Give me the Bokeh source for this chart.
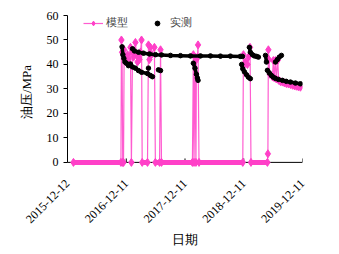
import math
import numpy as np
import pandas as pd
from bokeh.plotting import figure
from bokeh.models import Range1d, FixedTicker, DatetimeTickFormatter, Legend, LegendItem, Span
from bokeh.embed import file_html
from bokeh.resources import INLINE

# ---------------- data ----------------
x_tick_labels = ["2015-12-12", "2016-12-11", "2017-12-11", "2018-12-11", "2019-12-11"]
y_ticks = [0, 10, 20, 30, 40, 50, 60]

# model series (模型)
model_dates = [
    "2016-01-18", "2016-11-08", "2016-11-11", "2016-11-15", "2016-11-19", "2016-11-24",
    "2016-11-28", "2016-12-06", "2016-12-12", "2016-12-19", "2016-12-25", "2017-01-06",
    "2017-01-12", "2017-01-19", "2017-01-25", "2017-02-06", "2017-02-12", "2017-02-19",
    "2017-02-25", "2017-03-03", "2017-03-09", "2017-03-16", "2017-03-20", "2017-04-22",
    "2017-04-28", "2017-05-04", "2017-05-10", "2017-05-17", "2017-06-04", "2017-06-10",
    "2017-07-06", "2017-07-12", "2017-07-18", "2018-01-26", "2018-02-01", "2018-02-05",
    "2018-02-11", "2018-02-17", "2018-02-20", "2018-02-26", "2018-03-02", "2018-03-08",
    "2018-12-05", "2018-12-09", "2018-12-15", "2018-12-21", "2019-01-03", "2019-01-09",
    "2019-01-19", "2019-01-25", "2019-05-07", "2019-05-10", "2019-05-13", "2019-05-16",
    "2019-05-22", "2019-06-07", "2019-06-13", "2019-06-18", "2019-06-26", "2019-07-01",
    "2019-07-10", "2019-07-16", "2019-07-27", "2019-08-08", "2019-08-20", "2019-09-02",
    "2019-09-15", "2019-09-28", "2019-10-10", "2019-10-22", "2019-11-03", "2019-11-15",
    "2019-11-28",
]
model_values = [
    0, 0, 50, 45, 0, 0,
    46, 43, 41, 44, 42, 47,
    0, 45, 43, 49, 44, 41,
    43, 42, 45, 50, 0, 0,
    48, 42, 47, 44, 47, 0,
    0, 46, 0, 0, 44, 0,
    43, 0, 42, 43, 48, 0,
    0, 44, 40, 41, 40, 43,
    47, 0, 0, 3.5, 46, 42,
    36, 35, 41.6, 34.6, 41.6, 34.1,
    41.7, 33.5, 33.0, 32.8, 32.5, 32.2,
    32.0, 31.8, 31.5, 31.3, 31.1, 30.9,
    30.7,
]

# measured series (实测), grouped into runs of consecutive readings
measured_dates = [
    # run 0
    "2016-11-15", "2016-11-20", "2016-11-26", "2016-12-03", "2016-12-12", "2016-12-25",
    "2017-01-06", "2017-01-19", "2017-02-06", "2017-02-25", "2017-03-16", "2017-04-22",
    "2017-05-10", "2017-05-23",
    # run 1
    "2017-01-19", "2017-01-31", "2017-02-25", "2017-03-28", "2017-05-04", "2017-06-11",
    "2017-07-18", "2017-09-12", "2017-11-13", "2018-01-14", "2018-03-17", "2018-05-18",
    "2018-07-19", "2018-09-19", "2018-11-20", "2018-12-03",
    # run 2
    "2018-02-01", "2018-02-11", "2018-02-20", "2018-02-26", "2018-03-02",
    # run 3
    "2018-11-28", "2018-12-05", "2018-12-15", "2018-12-28", "2019-01-09", "2019-01-21",
    # run 4
    "2019-01-15", "2019-01-21", "2019-02-03", "2019-02-15", "2019-03-01", "2019-03-12",
    # run 5
    "2019-04-25", "2019-05-01",
    # run 6
    "2019-06-26", "2019-07-08", "2019-07-20", "2019-08-02",
    # run 7
    "2019-05-07", "2019-05-19", "2019-06-01", "2019-06-13", "2019-06-26", "2019-07-14",
    "2019-08-08", "2019-09-01", "2019-09-27", "2019-10-28", "2019-11-28",
    # single readings
    "2017-04-28", "2017-06-29", "2017-07-12",
]
measured_values = [
    47.2, 44.0, 42.5, 41.0, 40.5, 39.5,
    40.2, 39.0, 38.5, 37.5, 36.8, 36.3,
    35.5, 35.0,
    46.4, 45.5, 45.0, 44.6, 44.3, 44.0,
    43.9, 43.7, 43.6, 43.5, 43.5, 43.5,
    43.4, 43.4, 43.3, 43.3,
    40.5, 38.5, 36.0, 34.5, 33.5,
    40.0, 38.2, 37.0, 35.8, 34.8, 34.2,
    47.0, 45.0, 44.0, 43.5, 43.3, 43.0,
    43.7, 41.0,
    41.0, 42.0, 43.0, 43.7,
    37.6, 36.5, 35.5, 34.8, 34.3, 33.9,
    33.5, 33.1, 32.8, 32.4, 32.1,
    38.5, 37.8, 37.5,
]
measured_group = (
    [0] * 14 + [1] * 16 + [2] * 5 + [3] * 6 + [4] * 6 + [5] * 2 + [6] * 4 + [7] * 11
    + [8, 9, 10]
)

# ---------------- helpers ----------------
def to_ms(dates):
    return pd.to_datetime(dates).values.astype("datetime64[ms]").astype("int64").astype(float)

PINK = "#FF40C8"
SERIF = "Liberation Serif"

mx = to_ms(model_dates)
my = np.array(model_values, dtype=float)
sx = to_ms(measured_dates)
sy = np.array(measured_values, dtype=float)
sg = np.array(measured_group)
tick_ms = to_ms(x_tick_labels)

# a little room below zero so the zero band is not cut by the frame
p = figure(
    width=339, height=254,
    x_axis_type="datetime",
    x_range=Range1d(tick_ms[0], tick_ms[-1]),
    y_range=Range1d(-2.5, y_ticks[-1]),
    output_backend="svg", toolbar_location=None,
    min_border_left=67, min_border_right=37, min_border_top=15, min_border_bottom=86,
    background_fill_color="white", border_fill_color="white",
)
p.outline_line_color = None
p.xgrid.visible = False
p.ygrid.visible = False

# x axis line drawn at zero, beneath the data
p.add_layout(Span(location=y_ticks[0], dimension="width", line_color="black",
                  line_width=1, level="underlay"))
# short inward tick marks on the zero line
p.segment(x0=tick_ms, y0=[y_ticks[0]] * len(tick_ms), x1=tick_ms,
          y1=[y_ticks[0] + 1.6] * len(tick_ms), line_color="black", line_width=1)

# model: thin connecting line
m_line = p.line(mx, my, line_color=PINK, line_width=1.2, line_alpha=0.85)
# runs of zeros appear as a thick band of overlapping markers
zi = [i for i in range(len(my) - 1) if my[i] == 0 and my[i + 1] == 0]
p.segment(x0=mx[zi], y0=my[zi], x1=mx[[i + 1 for i in zi]], y1=my[[i + 1 for i in zi]],
          line_color=PINK, line_width=5)
m_pts = p.scatter(mx, my, marker="diamond", size=8, fill_color=PINK, line_color=PINK)

# measured: dense readings shown as a thick dotted band
xs, ys = [], []
for g in sorted(set(sg.tolist())):
    sel = sg == g
    if sel.sum() > 1:
        xs.append(sx[sel]); ys.append(sy[sel])
p.multi_line(xs, ys, line_color="black", line_width=3.5)
s_pts = p.scatter(sx, sy, marker="circle", size=4.5, fill_color="black", line_color="black")

# axes
xa = p.xaxis[0]
xa.ticker = FixedTicker(ticks=list(tick_ms))
fmt = "%Y-%m-%d"
xa.formatter = DatetimeTickFormatter(milliseconds=fmt, seconds=fmt, minsec=fmt, minutes=fmt,
                                     hourmin=fmt, hours=fmt, days=fmt, months=fmt, years=fmt)
xa.major_label_orientation = math.pi / 4
xa.axis_line_color = None
xa.major_tick_line_color = None
xa.minor_tick_line_color = None
xa.major_tick_in = 0
xa.major_tick_out = 0
xa.major_label_standoff = 13
xa.axis_label = "日期"
xa.axis_label_standoff = 2

ya = p.yaxis[0]
ya.bounds = (y_ticks[0], y_ticks[-1])
ya.ticker = FixedTicker(ticks=y_ticks)
ya.axis_line_color = "black"
ya.major_tick_line_color = "black"
ya.major_tick_in = 0
ya.major_tick_out = 4
ya.minor_tick_line_color = None
ya.major_label_standoff = 5
ya.axis_label = "油压/MPa"
ya.axis_label_standoff = 10

for ax in (xa, ya):
    ax.major_label_text_font = SERIF
    ax.major_label_text_font_size = "12px"
    ax.major_label_text_color = "black"
    ax.axis_label_text_font = SERIF
    ax.axis_label_text_font_size = "13px"
    ax.axis_label_text_font_style = "normal"
    ax.axis_label_text_color = "black"

legend = Legend(
    items=[LegendItem(label="模型", renderers=[m_line, m_pts]),
           LegendItem(label="实测", renderers=[s_pts])],
    orientation="horizontal", location=(16, 138),
    border_line_alpha=0, background_fill_alpha=0,
    label_text_font=SERIF, label_text_font_size="11px",
    glyph_width=20, glyph_height=12, label_height=12,
    padding=0, margin=0, spacing=19, label_standoff=3,
)
p.add_layout(legend)

open("out.html", "w").write(file_html(p, INLINE))
